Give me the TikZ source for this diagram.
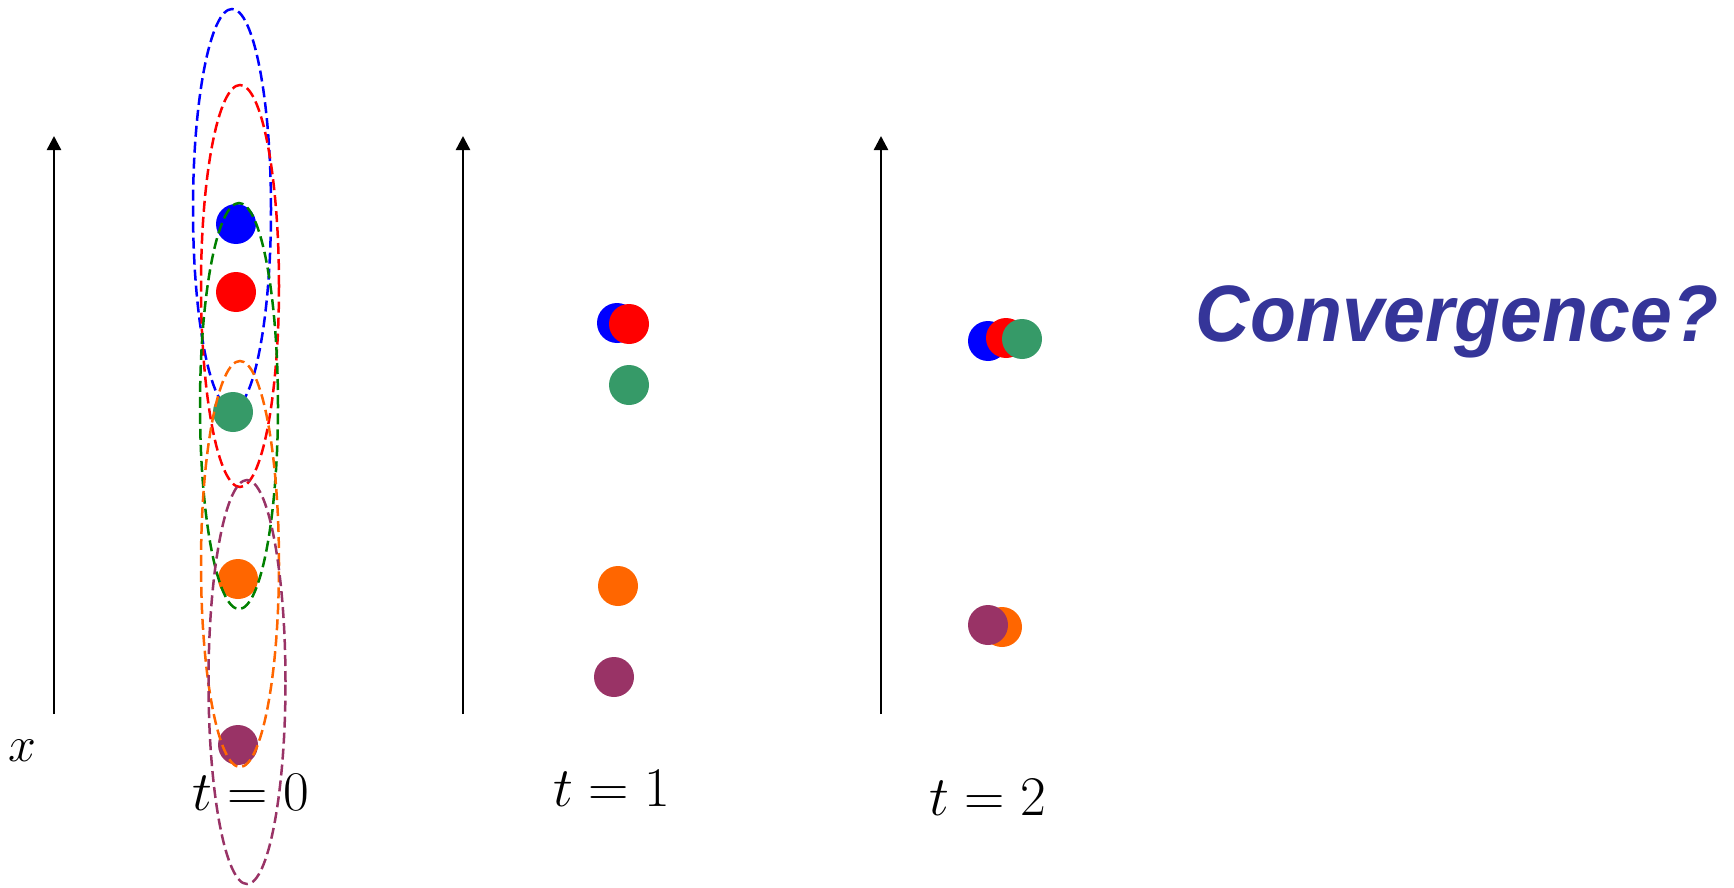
\RequirePackage{fix-cm}
\documentclass[tikz,border=0pt]{standalone}
\usepackage{fontspec}
\newfontfamily\convfont{Liberation Sans}
\usetikzlibrary{arrows.meta}
\definecolor{dotgreen}{HTML}{369A68}
\definecolor{elgreen}{HTML}{008000}
\definecolor{myorange}{HTML}{FF6600}
\definecolor{mypurple}{HTML}{993366}
\definecolor{convblue}{HTML}{353599}
\tikzset{
  axisline/.style={line width=2.4pt, -{Triangle[width=14pt,length=14pt]}},
  dot/.style={circle, minimum size=40pt, inner sep=0pt, draw=none},
  dashell/.style={line width=2.5pt, dash pattern=on 11pt off 5pt},
  tlabel/.style={font=\fontsize{56pt}{60pt}\selectfont, anchor=base, inner sep=0pt},
}
\begin{document}
\begin{tikzpicture}[x=1pt,y=-1pt]
\useasboundingbox (0,0) rectangle (1734,888);
% axes
\coordinate (a1b) at (54,714); \coordinate (a1t) at (54,136);
\coordinate (a2b) at (463,714); \coordinate (a2t) at (463,136);
\coordinate (a3b) at (881,714); \coordinate (a3t) at (881,136);
\draw[axisline] (a1b) -- (a1t);
\draw[axisline] (a2b) -- (a2t);
\draw[axisline] (a3b) -- (a3t);
% t = 0 ellipses (back)
\draw[dashell, blue] (232,209) ellipse [x radius=39pt, y radius=200pt];
\draw[dashell, red] (240,286) ellipse [x radius=39pt, y radius=201pt];
% t = 0 dots
\node[dot, fill=blue] (b0) at (236,224) {};
\node[dot, fill=red] (r0) at (236,292) {};
\node[dot, fill=dotgreen] (g0) at (233,412) {};
\node[dot, fill=myorange] (o0) at (238,579) {};
\node[dot, fill=mypurple] (p0) at (238,745) {};
% t = 0 ellipses (front)
\draw[dashell, elgreen] (239,406) ellipse [x radius=39pt, y radius=203pt];
\draw[dashell, myorange] (240,564) ellipse [x radius=39pt, y radius=203pt];
\draw[dashell, mypurple] (247,682) ellipse [x radius=38.5pt, y radius=202pt];
% t = 1 dots
\node[dot, fill=blue] (b1) at (617,323) {};
\node[dot, fill=red] (r1) at (629,324) {};
\node[dot, fill=dotgreen] (g1) at (629,385) {};
\node[dot, fill=myorange] (o1) at (618,586) {};
\node[dot, fill=mypurple] (p1) at (614,677) {};
% t = 2 dots
\node[dot, fill=blue] (b2) at (988,341) {};
\node[dot, fill=red] (r2) at (1006,338) {};
\node[dot, fill=dotgreen] (g2) at (1022,339) {};
\node[dot, fill=myorange] (o2) at (1002,627) {};
\node[dot, fill=mypurple] (p2) at (988,625) {};
% labels
\node[tlabel, font=\fontsize{50pt}{54pt}\selectfont] (xl) at (22,761) {$x$};
\node[tlabel] (t0) at (251,810) {$t=0$};
\node[tlabel] (t1) at (612,806) {$t=1$};
\node[tlabel] (t2) at (988,815) {$t=2$};
\node[anchor=base, inner sep=0pt, xscale=0.94, text=convblue,
      font=\convfont\bfseries\itshape\fontsize{80pt}{84pt}\selectfont] (conv) at (1457,341) {Convergence?};
\end{tikzpicture}
\end{document}
